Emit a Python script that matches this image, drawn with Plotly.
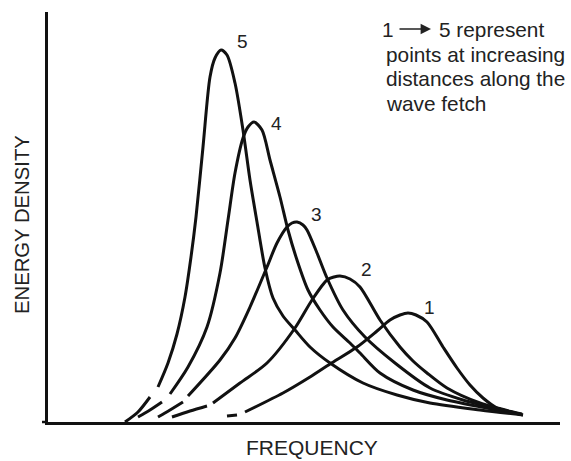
import plotly.graph_objects as go

# ---- data (frequency / energy density in chart units) ----
curve_labels = ["1", "2", "3", "4", "5"]

# broken starting pieces near the origin
tail_freq_1 = [227, 237]
tail_energy_1 = [6, 7]
tail_freq_2 = [172, 190, 207]
tail_energy_2 = [5, 11, 16]
tail_freq_3 = [158, 170, 183]
tail_energy_3 = [5, 12, 20]
tail_freq_4 = [138, 150, 162]
tail_energy_4 = [5, 12, 20]
tail_freq_5 = [125, 138, 150]
tail_energy_5 = [0, 10, 25]

# main curves
freq_1 = [245, 283, 310, 330, 357, 377, 390, 400, 408, 416, 427, 443, 457, 470, 483, 497, 523]
energy_1 = [10, 29, 45, 58, 75, 91, 102, 107, 109, 107, 100, 75, 54, 37, 24, 14, 7]

freq_2 = [213, 240, 267, 295, 312, 327, 334, 340, 350, 360, 380, 400, 413, 427, 447, 480, 513, 522]
energy_2 = [19, 39, 59, 94, 122, 142, 145, 146, 143, 135, 102, 75, 61, 49, 34, 19, 10, 8]

freq_3 = [188, 220, 235, 250, 267, 277, 287, 292, 297, 303, 307, 317, 327, 343, 365, 395, 430, 463, 503, 520]
energy_3 = [26, 62, 84, 115, 155, 179, 195, 199, 200, 197, 192, 169, 144, 112, 85, 59, 34, 22, 12, 8]

freq_4 = [170, 188, 207, 220, 228, 235, 243, 248, 254, 262, 270, 280, 288, 297, 308, 320, 333, 350, 360, 380, 413, 447, 497, 520]
energy_4 = [28, 55, 95, 149, 202, 249, 284, 295, 300, 292, 262, 225, 192, 162, 132, 112, 95, 79, 69, 49, 32, 22, 12, 8]

freq_5 = [158, 168, 177, 185, 191, 196, 203, 210, 215, 221, 227, 235, 243, 250, 257, 265, 273, 283, 295, 310, 330, 363, 397, 430, 480, 523]
energy_5 = [35, 59, 88, 125, 165, 205, 275, 345, 364, 372, 367, 339, 292, 242, 200, 154, 124, 106, 92, 75, 59, 39, 27, 19, 12, 7]

note_lines = ["points at increasing", "distances along the", "wave fetch"]

curves = [
    (freq_1, energy_1, tail_freq_1, tail_energy_1),
    (freq_2, energy_2, tail_freq_2, tail_energy_2),
    (freq_3, energy_3, tail_freq_3, tail_energy_3),
    (freq_4, energy_4, tail_freq_4, tail_energy_4),
    (freq_5, energy_5, tail_freq_5, tail_energy_5),
]

W, H = 571, 461
ML, MR, MT, MB = 48, 11, 12, 39
X0, X1 = 48, 560
Y0, Y1 = 0, 410

INK = "#111111"
TXT = "#222222"
FONT = "Liberation Sans, Arial, sans-serif"

fig = go.Figure()

label_offsets = [(21, 6), (26, 7), (19, 8), (22, -1), (21, 9)]

for (fx, ey, tx, ty), lab, (dx, dy) in zip(curves, curve_labels, label_offsets):
    fig.add_trace(go.Scatter(x=tx, y=ty, mode="lines",
                             line=dict(color=INK, width=3, shape="spline", smoothing=0.8),
                             hoverinfo="skip", showlegend=False))
    fig.add_trace(go.Scatter(x=fx, y=ey, mode="lines",
                             line=dict(color=INK, width=3, shape="spline", smoothing=0.8),
                             name=lab, showlegend=False))
    i = max(range(len(ey)), key=lambda k: ey[k])
    fig.add_annotation(x=fx[i] + dx, y=ey[i] + dy, text=lab, showarrow=False,
                       font=dict(family=FONT, size=19, color=TXT),
                       xanchor="center", yanchor="middle")

# note in the upper right
def yd(py):
    return H - MB - py  # pixel row -> data units (1 unit = 1 px)

NOTE_SIZE = 20.8
fig.add_annotation(x=388, y=yd(29), text="1", showarrow=False, xanchor="center",
                   yanchor="middle", font=dict(family=FONT, size=NOTE_SIZE, color=TXT))
fig.add_annotation(x=431, y=yd(29), ax=-33, ay=0, text="", showarrow=True,
                   arrowhead=2, arrowsize=1.3, arrowwidth=1.6, arrowcolor=TXT,
                   axref="pixel", ayref="pixel")
fig.add_annotation(x=437, y=yd(29), text="5 represent", showarrow=False, xanchor="left",
                   yanchor="middle", font=dict(family=FONT, size=NOTE_SIZE, color=TXT))
for k, line in enumerate(note_lines):
    fig.add_annotation(x=384, y=yd(54 + 24.7 * k), text=line, showarrow=False,
                       xanchor="left", yanchor="middle",
                       font=dict(family=FONT, size=NOTE_SIZE, color=TXT))

# axis titles
fig.add_annotation(xref="paper", yref="paper", x=(22 - ML) / (W - ML - MR),
                   y=(H - MB - 225) / (H - MT - MB), text="ENERGY DENSITY",
                   textangle=-90, showarrow=False, xanchor="center", yanchor="middle",
                   font=dict(family=FONT, size=20.3, color=TXT))
fig.add_annotation(xref="paper", yref="paper", x=(312 - ML) / (W - ML - MR),
                   y=(H - MB - 447) / (H - MT - MB), text="FREQUENCY",
                   showarrow=False, xanchor="center", yanchor="middle",
                   font=dict(family=FONT, size=21, color=TXT))

fig.update_xaxes(range=[X0, X1], showgrid=False, zeroline=False, showticklabels=False,
                 ticks="", showline=True, linecolor=INK, linewidth=2.5)
fig.update_yaxes(range=[Y0, Y1], showgrid=False, zeroline=False, showticklabels=False,
                 ticks="", showline=True, linecolor=INK, linewidth=2.5)

# small overhang of the base line to the left of the vertical axis
fig.add_shape(type="line", xref="paper", yref="paper", x0=-6 / (W - ML - MR), x1=0,
              y0=0, y1=0, line=dict(color=INK, width=2.5))

fig.update_layout(width=W, height=H, margin=dict(l=ML, r=MR, t=MT, b=MB),
                  paper_bgcolor="white", plot_bgcolor="white", showlegend=False)

fig.write_html("out.html")
